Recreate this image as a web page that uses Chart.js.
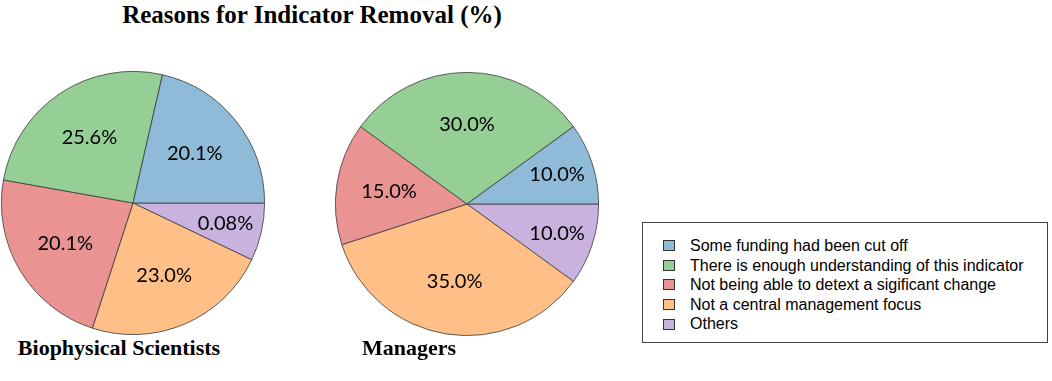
<!DOCTYPE html>
<html>
<head>
<meta charset="utf-8">
<script src="https://cdn.jsdelivr.net/npm/chart.js@4.4.1/dist/chart.umd.min.js"></script>
<style>
  body { margin: 0; background: #fff; width: 1052px; height: 381px; position: relative; overflow: hidden; }
  .abs { position: absolute; }
  .serif { font-family: "Liberation Serif", "Times New Roman", serif; font-weight: bold; color: #000; white-space: nowrap; }
  #title { left: 0; top: 2px; width: 624px; text-align: center; font-size: 25px; line-height: 25px; }
  .sub { top: 337px; font-size: 22px; line-height: 22px; text-align: center; width: 300px; }
  #legend { left: 642px; top: 222px; width: 406px; height: 121px; box-sizing: border-box; border: 1px solid #444;
            padding: 13px 0 0 20px; font-family: "Liberation Sans", Arial, sans-serif; font-size: 16px; color: #000; }
  .item { height: 19.6px; line-height: 19.6px; display: flex; align-items: center; white-space: nowrap; }
  .swatch { width: 10px; height: 9px; border: 1.5px solid #333; margin-right: 15px; flex: none; }
</style>
</head>
<body>
<div id="title" class="abs serif">Reasons for Indicator Removal (%)</div>
<canvas id="pie1" class="abs" width="264" height="264" style="left:1px; top:71px;"></canvas>
<canvas id="pie2" class="abs" width="264" height="264" style="left:335px; top:72px;"></canvas>
<div class="abs serif sub" style="left:-31px;">Biophysical Scientists</div>
<div class="abs serif sub" style="left:259px;">Managers</div>
<div id="legend" class="abs"></div>

<script>
// categorias (ordem da legenda)
const categories = [
    'Some funding had been cut off',
    'There is enough understanding of this indicator',
    'Not being able to detext a sigificant change',
    'Not a central management focus',
    'Others'
];
const colors = ['#8fbbd9', '#95cf95', '#ea9393', '#ffbf86', '#c9b3de'];

const scientistsValues = [21.4, 25.8, 22.8, 22.9, 7.1];
const scientistsLabels = ['20.1%', '25.6%', '20.1%', '23.0%', '0.08%'];
const managersValues = [10, 30, 15, 35, 10];
const managersLabels = ['10.0%', '30.0%', '15.0%', '35.0%', '10.0%'];

// legenda em HTML
const legend = document.getElementById('legend');
categories.forEach((c, i) => {
    const row = document.createElement('div');
    row.className = 'item';
    row.innerHTML = `<span class="swatch" style="background:${colors[i]}"></span><span>${c}</span>`;
    legend.appendChild(row);
});

// rótulos de porcentagem dentro das fatias
const sliceLabels = {
    id: 'sliceLabels',
    afterDatasetsDraw(chart) {
        const ctx = chart.ctx;
        const texts = chart.config.options.plugins.sliceLabels.texts;
        const arcs = chart.getDatasetMeta(0).data;
        ctx.save();
        ctx.font = '20px Lato';
        ctx.fillStyle = '#000';
        ctx.textAlign = 'center';
        ctx.textBaseline = 'middle';
        arcs.forEach((arc, i) => {
            const p = arc.getProps(['startAngle', 'endAngle', 'outerRadius', 'x', 'y'], true);
            const frac = (p.endAngle - p.startAngle) / (2 * Math.PI);
            const mid = (p.startAngle + p.endAngle) / 2;
            const d = (frac < 0.12 ? 0.72 : 0.6) * p.outerRadius;
            ctx.fillText(texts[i], p.x + Math.cos(mid) * d, p.y + Math.sin(mid) * d);
        });
        ctx.restore();
    }
};

// desenha no sentido anti-horário a partir do leste: inverte a ordem
function drawPie(id, values, labels) {
    const rev = arr => arr.slice().reverse();
    new Chart(document.getElementById(id), {
        type: 'pie',
        data: {
            labels: rev(categories),
            datasets: [{
                data: rev(values),
                backgroundColor: rev(colors),
                borderColor: '#3a3a3a',
                borderWidth: 0.8
            }]
        },
        options: {
            responsive: false,
            devicePixelRatio: 1,
            animation: false,
            rotation: 90,
            layout: { padding: 0 },
            plugins: {
                legend: { display: false },
                tooltip: { enabled: false },
                sliceLabels: { texts: rev(labels) }
            }
        },
        plugins: [sliceLabels]
    });
}

drawPie('pie1', scientistsValues, scientistsLabels);
drawPie('pie2', managersValues, managersLabels);
</script>
</body>
</html>
